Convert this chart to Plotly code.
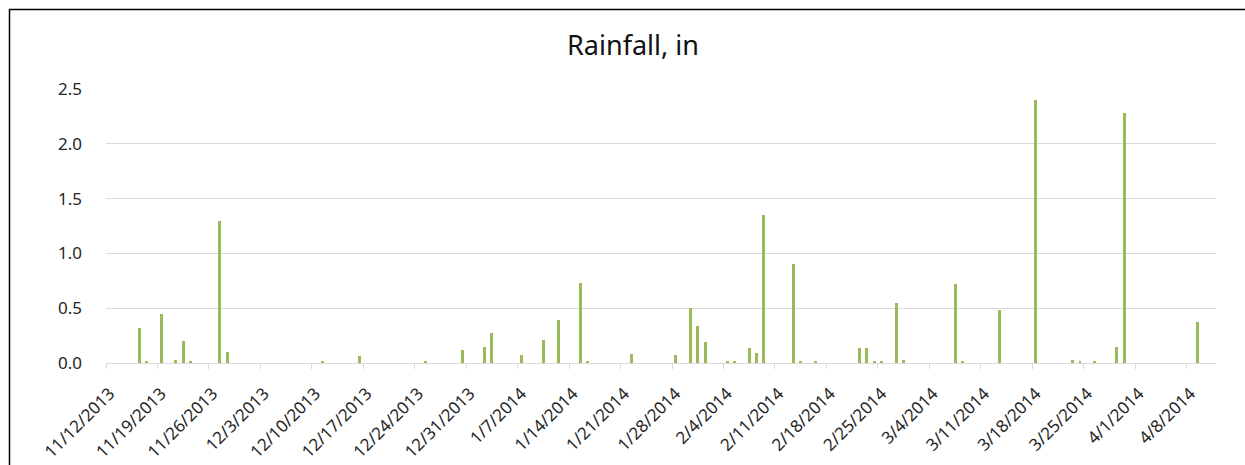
import pandas as pd
import plotly.graph_objects as go

# Daily rainfall (inches); days not listed had no rain
rain_dates = [
    "2013-11-16", "2013-11-17", "2013-11-19", "2013-11-21", "2013-11-22",
    "2013-11-23", "2013-11-27", "2013-11-28", "2013-12-11", "2013-12-16",
    "2013-12-25", "2013-12-30", "2014-01-02", "2014-01-03", "2014-01-07",
    "2014-01-10", "2014-01-12", "2014-01-15", "2014-01-16", "2014-01-22",
    "2014-01-28", "2014-01-30", "2014-01-31", "2014-02-01", "2014-02-04",
    "2014-02-05", "2014-02-07", "2014-02-08", "2014-02-09", "2014-02-13",
    "2014-02-14", "2014-02-16", "2014-02-22", "2014-02-23", "2014-02-24",
    "2014-02-25", "2014-02-27", "2014-02-28", "2014-03-07", "2014-03-08",
    "2014-03-13", "2014-03-18", "2014-03-23", "2014-03-24", "2014-03-26",
    "2014-03-29", "2014-03-30", "2014-04-09",
]
rain_in = [
    0.32, 0.01, 0.45, 0.03, 0.20,
    0.01, 1.30, 0.10, 0.02, 0.06,
    0.02, 0.12, 0.15, 0.27, 0.07,
    0.21, 0.39, 0.73, 0.02, 0.08,
    0.07, 0.50, 0.34, 0.19, 0.01,
    0.01, 0.14, 0.09, 1.35, 0.90,
    0.02, 0.01, 0.14, 0.14, 0.01,
    0.01, 0.55, 0.03, 0.72, 0.01,
    0.48, 2.40, 0.03, 0.01, 0.02,
    0.15, 2.28, 0.37,
]

# Weekly date ticks
period_start = "2013-11-12"
period_end = "2014-04-11"
tick_dates = pd.date_range(period_start, "2014-04-08", freq="7D")
tick_labels = [f"{d.month}/{d.day}/{d.year}" for d in tick_dates]

DAY_MS = 86400000
half_day = pd.Timedelta(hours=12)
# tick marks sit on the day boundaries, labels under the day centres
boundary_ticks = [d - half_day for d in tick_dates]

fig = go.Figure(
    go.Bar(
        x=pd.to_datetime(rain_dates),
        y=rain_in,
        width=0.4 * DAY_MS,
        marker=dict(color="#9BBB59", line=dict(width=0)),
        hoverinfo="x+y",
    )
)

font_family = "Noto Sans, Open Sans, DejaVu Sans, sans-serif"
text_color = "#262626"

fig.update_layout(
    width=1245,
    height=465,
    margin=dict(l=106, r=29, t=89, b=102),
    paper_bgcolor="white",
    plot_bgcolor="white",
    showlegend=False,
    bargap=0,
    title=dict(
        text="Rainfall, in",
        x=633 / 1245,
        xref="container",
        xanchor="center",
        y=1 - 46 / 465,
        yanchor="middle",
        font=dict(family=font_family, size=27, color="#111111"),
    ),
    font=dict(family=font_family, size=17, color=text_color),
    xaxis=dict(
        type="date",
        automargin=False,
        range=[pd.Timestamp(period_start) - half_day,
               pd.Timestamp(period_end) + half_day],
        tickmode="array",
        tickvals=list(tick_dates),
        ticktext=tick_labels,
        tickangle=-45,
        ticks="outside",
        ticklen=0,
        ticklabelstandoff=13,
        showgrid=False,
        showline=True,
        linecolor="#d9d9d9",
        linewidth=1,
        zeroline=False,
        minor=dict(
            tickmode="array",
            tickvals=boundary_ticks,
            ticks="outside",
            ticklen=5,
            tickcolor="#d9d9d9",
            showgrid=False,
        ),
        tickfont=dict(size=17, color=text_color),
    ),
    yaxis=dict(
        automargin=False,
        range=[0, 2.5],
        tick0=0,
        dtick=0.5,
        tickformat=".1f",
        showgrid=True,
        gridcolor="#d9d9d9",
        gridwidth=1,
        zeroline=False,
        showline=False,
        ticks="",
        ticklabelstandoff=23,
        tickfont=dict(size=17, color=text_color),
    ),
    shapes=[
        dict(
            type="rect",
            xref="paper",
            yref="paper",
            x0=(9.5 - 106) / 1110,
            x1=(1260 - 106) / 1110,
            y0=(363 - 480) / 274,
            y1=(363 - 9.5) / 274,
            line=dict(color="#000000", width=1.5),
            fillcolor="rgba(0,0,0,0)",
            layer="above",
        )
    ],
)

fig.write_html("out.html")
